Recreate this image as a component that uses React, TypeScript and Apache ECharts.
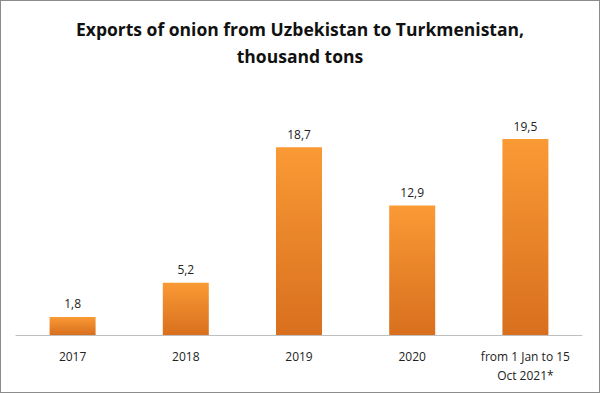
import React, { useEffect, useRef } from "react";
import * as echarts from "echarts";

const categories = ["2017", "2018", "2019", "2020", "from 1 Jan to 15\nOct 2021*"];
const values = [1.8, 5.2, 18.7, 12.9, 19.5];
const titleText = "Exports of onion from Uzbekistan to Turkmenistan,\nthousand tons";

export default function App() {
  const ref = useRef<HTMLDivElement>(null);
  useEffect(() => {
    document.body.style.margin = "0";
    const chart = echarts.init(ref.current!, null, { renderer: "svg" });
    chart.setOption({
      animation: false,
      backgroundColor: "#ffffff",
      title: {
        text: titleText,
        left: "center",
        top: 9,
        textStyle: {
          fontFamily: "Open Sans",
          fontWeight: "bold",
          fontSize: 17.5,
          lineHeight: 27,
          color: "#111111",
        },
      },
      grid: { left: 15, right: 17, top: 113, bottom: 57, containLabel: false },
      xAxis: {
        type: "category",
        data: categories,
        axisLine: { lineStyle: { color: "#bfbfbf", width: 1 } },
        axisTick: { show: false },
        axisLabel: {
          color: "#222222",
          fontFamily: "Open Sans",
          fontSize: 12,
          margin: 12,
          lineHeight: 19,
          interval: 0,
        },
      },
      yAxis: {
        type: "value",
        min: 0,
        max: 22,
        show: false,
        splitLine: { show: false },
      },
      series: [
        {
          type: "bar",
          data: values,
          barWidth: 46,
          itemStyle: {
            color: new echarts.graphic.LinearGradient(0, 0, 0, 1, [
              { offset: 0, color: "#FA9A35" },
              { offset: 1, color: "#D86F1E" },
            ]),
          },
          label: {
            show: true,
            position: "top",
            distance: 7,
            color: "#222222",
            fontFamily: "Open Sans",
            fontSize: 12,
            formatter: (p: any) => String(p.value).replace(".", ","),
          },
        },
      ],
    });
    return () => chart.dispose();
  }, []);
  return (
    <div
      ref={ref}
      style={{
        position: "absolute",
        left: 0,
        top: 0,
        width: 600,
        height: 393,
        border: "1px solid #8c8c8c",
        boxSizing: "border-box",
      }}
    />
  );
}
